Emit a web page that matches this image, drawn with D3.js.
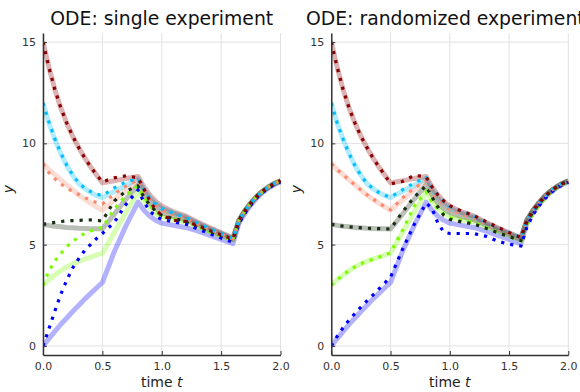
<!DOCTYPE html>
<html><head><meta charset="utf-8">
<script src="https://cdn.jsdelivr.net/npm/d3@7"></script>
<style>
body{margin:0;background:#fff;}
svg{display:block;font-family:"DejaVu Sans",sans-serif;}
</style></head>
<body><svg id="c" width="580" height="392"></svg>
<script>
const T = [0,.05,.1,.15,.2,.25,.3,.35,.4,.45,.5,.6,.7,.8,.85,.9,.95,1,1.1,1.2,1.3,1.4,1.5,1.6,1.65,1.7,1.75,1.8,1.85,1.9,1.95,2];
const xTicks = [0,0.5,1,1.5,2];
const yTicks = [0,5,10,15];
const titles = ["ODE: single experiment","ODE: randomized experiment"];
const colors = ["#0000ff","#7cfc00","#1a2e14","#fa8a6e","#00bfff","#8b0000"];

// true solutions (solid, translucent)
const trueBlue   = [0,0.36,0.72,1.06,1.38,1.7,2.0,2.3,2.58,2.86,3.13, 4.65,5.95,7.1, 6.7,6.4,6.2,6.06, 5.95,5.85,5.68,5.47,5.26,5.05, 6.05,6.55,6.95,7.3,7.58,7.8,7.97,8.1];
const trueGreen  = [3.0,3.27,3.5,3.72,3.9,4.05,4.17,4.28,4.38,4.48,4.58, 5.6,6.6,7.6, 7.15,6.8,6.55,6.38, 6.22,6.12,5.9,5.67,5.45,5.22, 6.2,6.67,7.05,7.38,7.64,7.85,8.02,8.15];
const trueDark   = [6.0,5.95,5.91,5.88,5.85,5.83,5.81,5.8,5.79,5.78,5.77, 6.5,7.25,7.95, 7.45,7.05,6.78,6.58, 6.38,6.24,5.98,5.73,5.5,5.26, 6.2,6.67,7.05,7.38,7.64,7.85,8.02,8.15];
const trueSalmon = [9.0,8.7,8.45,8.2,7.95,7.7,7.45,7.25,7.05,6.87,6.7, 7.2,7.7,8.15, 7.6,7.2,6.93,6.72, 6.5,6.32,6.04,5.78,5.54,5.29, 6.2,6.67,7.05,7.38,7.64,7.85,8.02,8.15];
const trueCyan   = [12,11.0,10.2,9.5,8.9,8.42,8.02,7.78,7.58,7.43,7.32, 7.62,7.93,8.25, 7.7,7.3,7.02,6.8, 6.56,6.36,6.07,5.8,5.56,5.31, 6.2,6.67,7.05,7.38,7.64,7.85,8.02,8.15];
const trueRed    = [15,13.75,12.65,11.75,11.0,10.35,9.8,9.3,8.85,8.45,8.05, 8.15,8.27,8.36, 7.85,7.45,7.13,6.9, 6.62,6.42,6.12,5.84,5.58,5.33, 6.2,6.67,7.05,7.38,7.64,7.85,8.02,8.15];

// model, single experiment (dotted)
const singleBlue   = [0,0.85,1.72,2.55,3.25,3.85,4.3,4.7,5.0,5.3,5.55, 6.1,7.0,7.7, 7.1,6.65,6.4,6.25, 6.12,6.02,5.78,5.55,5.33,5.12, 6.05,6.55,6.95,7.3,7.58,7.8,7.97,8.1];
const singleGreen  = [3.0,3.7,4.2,4.55,4.9,5.15,5.38,5.55,5.67,5.76,5.85, 6.75,7.45,7.9, 7.35,6.95,6.62,6.42, 6.25,6.15,5.9,5.65,5.43,5.22, 6.2,6.67,7.05,7.38,7.64,7.85,8.02,8.15];
const singleDark   = [6.0,6.05,6.1,6.14,6.17,6.19,6.2,6.21,6.22,6.2,6.17, 7.15,7.65,7.9, 7.35,6.95,6.65,6.45, 6.28,6.18,5.92,5.68,5.46,5.24, 6.2,6.67,7.05,7.38,7.64,7.85,8.02,8.15];
const singleSalmon = [9.0,8.55,8.25,8.0,7.8,7.63,7.48,7.33,7.18,7.08,7.0, 7.5,7.9,8.2, 7.65,7.25,6.95,6.72, 6.48,6.3,6.02,5.76,5.52,5.28, 6.2,6.67,7.05,7.38,7.64,7.85,8.02,8.15];
const singleCyan   = [12,11.05,10.22,9.52,8.92,8.44,8.05,7.8,7.62,7.5,7.42, 7.8,8.1,8.25, 7.72,7.3,7.0,6.78, 6.55,6.35,6.06,5.79,5.55,5.3, 6.2,6.67,7.05,7.38,7.64,7.85,8.02,8.15];
const singleRed    = [15,13.75,12.65,11.75,11.0,10.35,9.8,9.3,8.85,8.45,8.1, 8.3,8.4,8.3, 7.75,7.15,6.7,6.45, 6.2,6.15,5.95,5.7,5.48,5.27, 6.2,6.67,7.05,7.38,7.64,7.85,8.02,8.15];

// model, randomized experiment (dotted)
const randBlue   = [0,0.48,0.9,1.28,1.6,1.92,2.22,2.5,2.8,3.1,3.4, 4.75,6.0,7.05, 6.8,6.05,5.62,5.55, 5.55,5.55,5.42,5.18,5.02,4.93, 5.85,6.45,6.9,7.25,7.55,7.78,7.95,8.08];
const randGreen  = [3.0,3.27,3.5,3.72,3.9,4.05,4.17,4.28,4.38,4.48,4.6, 5.7,6.9,7.6, 7.1,6.75,6.5,6.32, 6.18,6.08,5.86,5.62,5.4,5.18, 6.0,6.5,6.92,7.27,7.56,7.8,7.97,8.1];
const randDark   = [6.0,5.95,5.91,5.88,5.85,5.83,5.81,5.8,5.79,5.78,5.77, 6.6,7.35,7.9, 7.35,6.85,6.45,6.25, 6.12,6.02,5.82,5.6,5.4,5.2, 6.1,6.6,7.0,7.33,7.6,7.82,8.0,8.13];
const randSalmon = [9.0,8.7,8.45,8.2,7.95,7.7,7.47,7.26,7.06,6.88,6.72, 7.3,7.8,8.15, 7.62,7.22,6.95,6.75, 6.52,6.33,6.05,5.79,5.55,5.3, 6.2,6.67,7.05,7.38,7.64,7.85,8.02,8.15];
const randCyan   = [12,11.0,10.2,9.5,8.9,8.42,8.02,7.78,7.58,7.43,7.35, 7.7,8.05,8.3, 7.8,7.4,7.1,6.88, 6.62,6.42,6.12,5.84,5.58,5.32, 6.2,6.67,7.05,7.38,7.64,7.85,8.02,8.15];
const randRed    = [15,13.75,12.65,11.75,11.0,10.35,9.8,9.3,8.85,8.45,8.0, 8.12,8.42,8.35, 7.85,7.45,7.15,6.92, 6.65,6.45,6.15,5.87,5.6,5.35, 6.2,6.67,7.05,7.38,7.64,7.85,8.02,8.15];

const trueSet = [trueBlue,trueGreen,trueDark,trueSalmon,trueCyan,trueRed];
const modelSets = [
  [singleBlue,singleGreen,singleDark,singleSalmon,singleCyan,singleRed],
  [randBlue,randGreen,randDark,randSalmon,randCyan,randRed]
];

const svg = d3.select("#c");
const panels = [{x0:43,x1:280.5},{x0:331.3,x1:568.3}];
const plotTop = 33, plotBottom = 355;

panels.forEach((p,pi)=>{
  const x = d3.scaleLinear().domain([0,2]).range([p.x0,p.x1]);
  const y = d3.scaleLinear().domain([-0.45,15.45]).range([plotBottom,plotTop]);
  const g = svg.append("g");
  const cid = "clip"+pi;
  svg.append("clipPath").attr("id",cid).append("rect")
    .attr("x",p.x0).attr("y",plotTop).attr("width",p.x1-p.x0+1).attr("height",plotBottom-plotTop);

  // grid
  g.selectAll(".gx").data(xTicks).join("line")
    .attr("x1",d=>x(d)).attr("x2",d=>x(d)).attr("y1",plotTop).attr("y2",plotBottom)
    .attr("stroke","#e2e2e2").attr("stroke-width",1);
  g.selectAll(".gy").data(yTicks).join("line")
    .attr("x1",p.x0).attr("x2",p.x1).attr("y1",d=>y(d)).attr("y2",d=>y(d))
    .attr("stroke","#e2e2e2").attr("stroke-width",1);

  const line = d3.line().x((d,i)=>x(T[i])).y(d=>y(d));
  const lg = g.append("g").attr("clip-path",`url(#${cid})`);
  trueSet.forEach((s,i)=>{
    lg.append("path").attr("d",line(s)).attr("fill","none")
      .attr("stroke",colors[i]).attr("stroke-opacity",0.3).attr("stroke-width",5)
      .attr("stroke-linejoin","round");
  });
  modelSets[pi].forEach((s,i)=>{
    lg.append("path").attr("d",line(s)).attr("fill","none")
      .attr("stroke",colors[i]).attr("stroke-width",3.2)
      .attr("stroke-dasharray","3.2 6");
  });

  // axes
  const ax = d3.axisBottom(x).tickValues(xTicks).tickFormat(d3.format(".1f")).tickSize(-4).tickSizeOuter(0).tickPadding(7);
  const ay = d3.axisLeft(y).tickValues(yTicks).tickFormat(d3.format("d")).tickSize(-4).tickSizeOuter(0).tickPadding(7);
  const gx = g.append("g").attr("transform",`translate(0,${plotBottom})`).call(ax);
  const gy = g.append("g").attr("transform",`translate(${p.x0},0)`).call(ay);
  [gx,gy].forEach(a=>{
    a.select(".domain").attr("stroke","#333").attr("stroke-width",1.5);
    a.selectAll(".tick line").attr("stroke","#333");
    a.selectAll(".tick text").attr("fill","#333").attr("font-size",11).attr("font-family","DejaVu Sans");
  });

  const cx = (p.x0+p.x1)/2;
  const title = g.append("text").attr("y",25).attr("font-size",18.8).attr("fill","#111").text(titles[pi]);
  if (pi === 0) title.attr("x",cx).attr("text-anchor","middle");
  else title.attr("x",306).attr("text-anchor","start");
  const xl = g.append("text").attr("x",cx).attr("y",387).attr("text-anchor","middle")
    .attr("font-size",14).attr("fill","#222");
  xl.append("tspan").text("time ");
  xl.append("tspan").attr("font-style","italic").text("t");
  g.append("text").attr("transform",`translate(${p.x0-30},${(plotTop+plotBottom)/2 - 5}) rotate(-90)`)
    .attr("text-anchor","middle").attr("font-size",14).attr("font-style","italic").attr("fill","#222").text("y");
});
</script></body></html>
